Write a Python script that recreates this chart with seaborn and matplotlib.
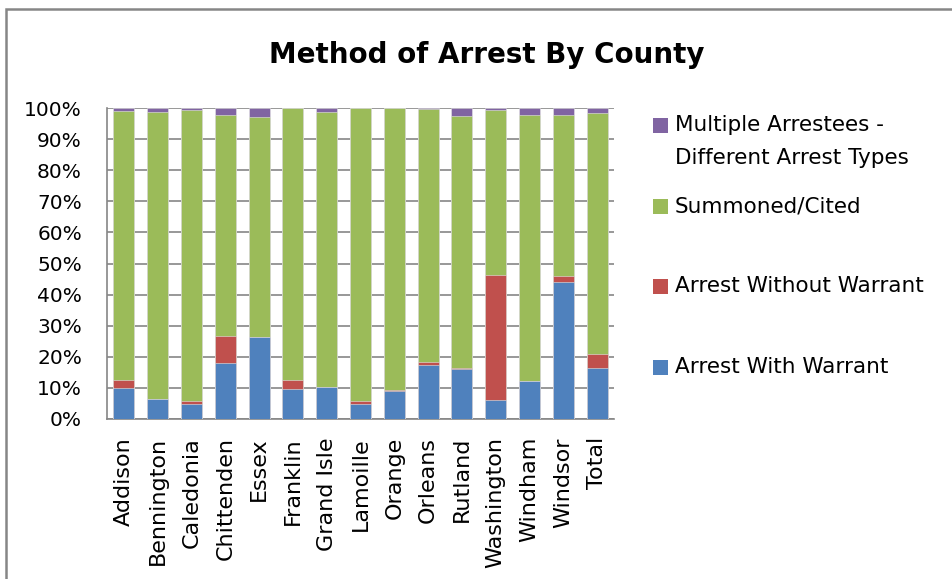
import numpy as np
import pandas as pd
import matplotlib
matplotlib.use("Agg")
import matplotlib.pyplot as plt
from matplotlib.patches import Rectangle
import seaborn as sns

counties = ['Addison', 'Bennington', 'Caledonia', 'Chittenden', 'Essex', 'Franklin',
            'Grand Isle', 'Lamoille', 'Orange', 'Orleans', 'Rutland', 'Washington',
            'Windham', 'Windsor', 'Total']

# percentages
with_warrant = [10.0, 6.4, 4.9, 18.0, 26.3, 9.5, 10.3, 4.9, 8.9, 17.3, 16.1, 6.0, 12.3, 44.1, 16.4]
without_warrant = [2.4, 0.1, 0.8, 8.7, 0.0, 3.0, 0.0, 0.8, 0.5, 0.9, 0.2, 40.2, 0.0, 1.8, 4.6]
summoned = [86.5, 92.1, 93.8, 71.2, 70.8, 87.4, 88.3, 94.3, 90.6, 81.6, 81.1, 53.0, 85.4, 51.8, 77.3]
multiple = [1.1, 1.4, 0.5, 2.1, 2.9, 0.1, 1.4, 0.0, 0.0, 0.2, 2.6, 0.8, 2.3, 2.3, 1.7]

series_names = ['Arrest With Warrant', 'Arrest Without Warrant', 'Summoned/Cited',
                'Multiple Arrestees -\nDifferent Arrest Types']
colors = ['#4F81BD', '#C0504D', '#9BBB59', '#8064A2']

df = pd.DataFrame({'county': counties,
                   series_names[0]: with_warrant,
                   series_names[1]: without_warrant,
                   series_names[2]: summoned,
                   series_names[3]: multiple})

# cumulative tops for stacking, drawn back to front
cum = df[series_names].cumsum(axis=1)

sns.set_style("white")
plt.rcParams['font.family'] = ['DejaVu Sans']
plt.rcParams['text.color'] = 'black'
plt.rcParams['xtick.color'] = 'black'
plt.rcParams['ytick.color'] = 'black'

fig = plt.figure(figsize=(9.52, 5.79), dpi=100)
ax = fig.add_axes([107 / 952, 1 - 419 / 579, 507 / 952, 311 / 579])

for name, col in reversed(list(zip(series_names, colors))):
    sns.barplot(x=df['county'], y=cum[name], color=col, saturation=1, width=0.625,
                edgecolor='#E6E6E6', linewidth=0.4, ax=ax, zorder=3)

ax.set_ylim(0, 100)
ax.set_xlim(-0.5, len(counties) - 0.5)
ax.set_yticks(np.arange(0, 101, 10))
ax.set_yticklabels([f'{v}%' for v in range(0, 101, 10)], fontsize=14.5)
ax.set_xticks(range(len(counties)))
ax.set_xticklabels(counties, rotation=90, fontsize=16)
ax.tick_params(axis='y', length=0, pad=18)
ax.tick_params(axis='x', length=0, pad=13)
ax.set_xlabel('')
ax.set_ylabel('')
ax.yaxis.grid(True, color='#868686', linewidth=1.2, zorder=0)
ax.set_axisbelow(True)
for s in ['top', 'right']:
    ax.spines[s].set_visible(False)
for s in ['left', 'bottom']:
    ax.spines[s].set_color('#868686')
    ax.spines[s].set_linewidth(1.2)

fig.text(487 / 952, 1 - 55 / 579, 'Method of Arrest By County', ha='center', va='center',
         fontsize=20, fontweight='bold')

# legend drawn by hand to keep Excel's uneven spacing
leg_y = [125, 206, 286, 367]
leg_order = [3, 2, 1, 0]
for yy, i in zip(leg_y, leg_order):
    fig.patches.append(Rectangle((653 / 952, 1 - (yy + 7.5) / 579), 15 / 952, 15 / 579,
                                 transform=fig.transFigure, facecolor=colors[i],
                                 edgecolor='none'))
    for k, line in enumerate(series_names[i].split('\n')):
        fig.text(675 / 952, 1 - (yy + 33 * k) / 579, line, ha='left', va='center',
                 fontsize=15.5)

# chart border
fig.patches.append(Rectangle((6 / 952, -0.1), 1.2, 1 - 9 / 579 + 0.1, transform=fig.transFigure,
                             facecolor='none', edgecolor='#868686', linewidth=1.8))

fig.savefig('out.png', dpi=100)
